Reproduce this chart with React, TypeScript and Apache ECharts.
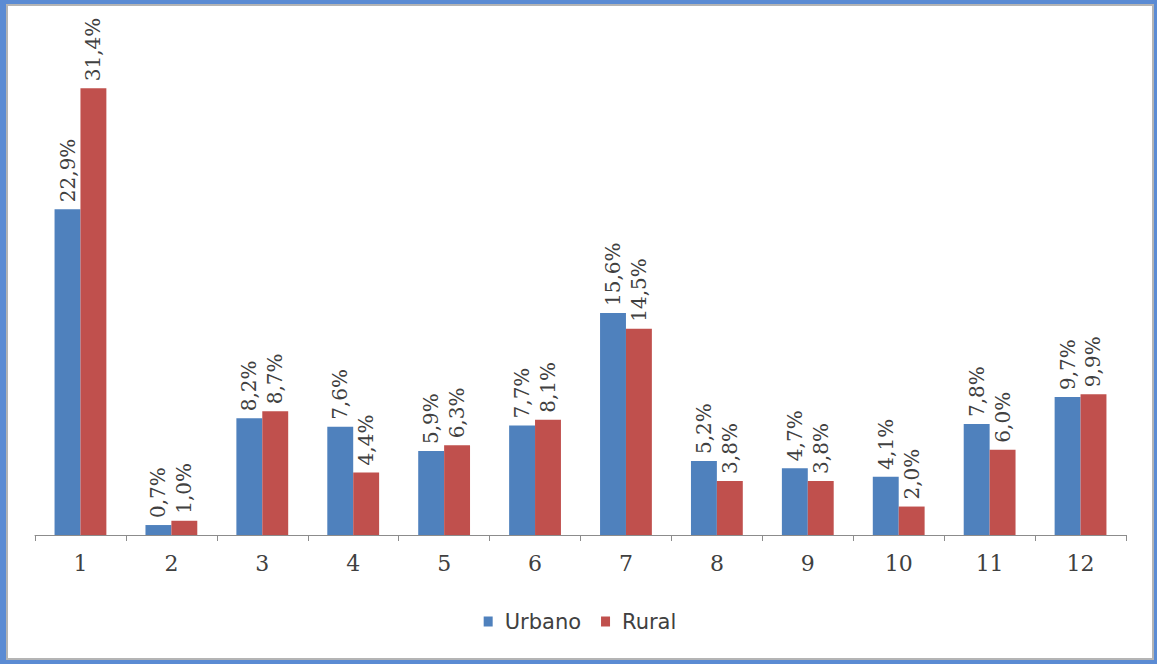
import React, { useEffect, useRef } from "react";
import * as echarts from "echarts";

const categories = ["1", "2", "3", "4", "5", "6", "7", "8", "9", "10", "11", "12"];
const urbano = [22.9, 0.7, 8.2, 7.6, 5.9, 7.7, 15.6, 5.2, 4.7, 4.1, 7.8, 9.7];
const rural = [31.4, 1.0, 8.7, 4.4, 6.3, 8.1, 14.5, 3.8, 3.8, 2.0, 6.0, 9.9];
const seriesNames = ["Urbano", "Rural"];

const fmt = (v: number) => v.toFixed(1).replace(".", ",") + "%";

export default function App() {
  const ref = useRef<HTMLDivElement>(null);
  useEffect(() => {
    document.body.style.margin = "0";
    const chart = echarts.init(ref.current!, undefined, { renderer: "svg" });
    const label = {
      show: true,
      position: "top" as const,
      rotate: 90,
      align: "left" as const,
      verticalAlign: "middle" as const,
      distance: 7,
      fontFamily: "DejaVu Serif",
      fontSize: 20,
      color: "#404040",
      formatter: (p: any) => fmt(p.value),
    };
    chart.setOption({
      animation: false,
      backgroundColor: "transparent",
      grid: { left: 27, right: 26, top: 31, bottom: 125 },
      legend: {
        data: seriesNames,
        left: "center",
        top: 600,
        icon: "rect",
        itemWidth: 9,
        itemHeight: 10,
        itemGap: 20,
        textStyle: {
          fontFamily: "DejaVu Sans",
          fontSize: 21,
          color: "#404040",
          padding: [0, 0, 0, 7],
        },
      },
      xAxis: {
        type: "category",
        data: categories,
        axisLine: { lineStyle: { color: "#8c8c8c", width: 1 } },
        axisTick: { show: true, length: 6, lineStyle: { color: "#8c8c8c" } },
        axisLabel: {
          fontFamily: "DejaVu Serif",
          fontSize: 22,
          color: "#404040",
          margin: 17,
        },
      },
      yAxis: {
        type: "value",
        min: 0,
        max: 35,
        show: false,
        splitLine: { show: false },
      },
      series: [
        {
          name: seriesNames[0],
          type: "bar",
          data: urbano,
          itemStyle: { color: "#4F81BD" },
          barGap: "0%",
          barCategoryGap: "43%",
          label,
        },
        {
          name: seriesNames[1],
          type: "bar",
          data: rural,
          itemStyle: { color: "#C0504D" },
          barGap: "0%",
          barCategoryGap: "43%",
          label,
        },
      ],
    });
    return () => chart.dispose();
  }, []);
  return (
    <div
      style={{
        position: "absolute",
        left: 0,
        top: 0,
        width: 1157,
        height: 664,
        boxSizing: "border-box",
        borderStyle: "solid",
        borderColor: "#5B8BD3",
        borderWidth: "4px 3px 4px 6px",
        background: "#fff",
      }}
    >
      <div
        style={{
          position: "absolute",
          left: 0,
          top: 0,
          right: 0,
          bottom: 0,
          border: "2px solid #b4b4b4",
          boxSizing: "border-box",
        }}
      >
        <div ref={ref} style={{ position: "absolute", left: 0, top: 0, width: 1144, height: 654 }} />
      </div>
    </div>
  );
}
